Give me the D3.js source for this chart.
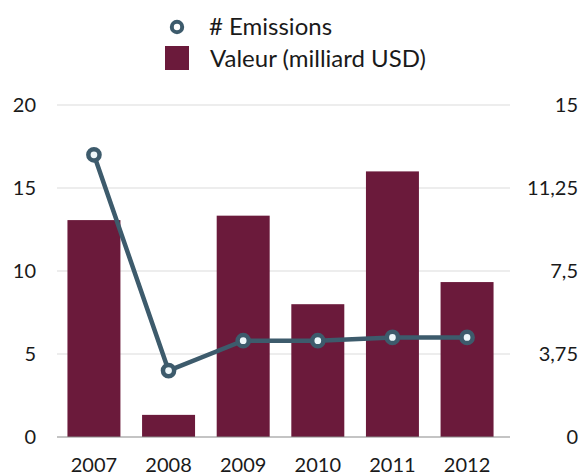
<!DOCTYPE html>
<html>
<head>
<meta charset="utf-8">
<script src="https://cdn.jsdelivr.net/npm/d3@7"></script>
<style>
  html, body { margin: 0; padding: 0; background: #ffffff; }
  svg text { font-family: Lato, "Open Sans", sans-serif; fill: #1a1a1a; }
</style>
</head>
<body>
<svg id="chart" width="581" height="475"></svg>
<script>
// Years on the x axis
const years = ["2007", "2008", "2009", "2010", "2011", "2012"];
// Value of issues, billion USD (right axis)
const valeur = [9.8, 1.0, 10.0, 6.0, 12.0, 7.0];
// Number of issues (left axis)
const emissions = [17, 4, 5.8, 5.8, 6, 6];
// Tick values for both vertical axes
const leftTicks = [0, 5, 10, 15, 20];
const rightTicks = [0, 3.75, 7.5, 11.25, 15];

const svg = d3.select("#chart");
const barColor = "#6b1a3b";
const lineColor = "#3d5b6c";

const plotLeft = 57, plotRight = 510, plotTop = 105, plotBottom = 437;

const x = d3.scaleBand().domain(years).range([plotLeft, 504])
  .paddingInner(0.29).paddingOuter(0.14);
const yLeft = d3.scaleLinear().domain([0, 20]).range([plotBottom, plotTop]);
const yRight = d3.scaleLinear().domain([0, 15]).range([plotBottom, plotTop]);

const fmtFr = d3.formatLocale({ decimal: ",", thousands: " ", grouping: [3], currency: ["", " $"] }).format("~g");

// Horizontal gridlines
svg.append("g").selectAll("line").data(leftTicks.filter(d => d > 0)).join("line")
  .attr("x1", plotLeft).attr("x2", plotRight)
  .attr("y1", d => yLeft(d)).attr("y2", d => yLeft(d))
  .attr("stroke", "#dcdcdc").attr("stroke-width", 1.2);

// Bars
svg.append("g").selectAll("rect").data(valeur).join("rect")
  .attr("x", (d, i) => x(years[i]))
  .attr("width", x.bandwidth())
  .attr("y", d => yRight(d))
  .attr("height", d => yRight(0) - yRight(d))
  .attr("fill", barColor);

// Baseline
svg.append("line")
  .attr("x1", plotLeft).attr("x2", plotRight)
  .attr("y1", plotBottom).attr("y2", plotBottom)
  .attr("stroke", "#8a8a8a").attr("stroke-width", 1.2);

// Left axis labels
const leftAxis = d3.axisLeft(yLeft).tickValues(leftTicks).tickSize(0).tickPadding(0);
svg.append("g").attr("transform", "translate(36,0)").call(leftAxis)
  .call(g => g.select(".domain").remove())
  .selectAll("text").attr("font-size", 20).attr("font-family", "Lato").attr("fill", "#1a1a1a");

// Right axis labels
const rightAxis = d3.axisRight(yRight).tickValues(rightTicks).tickSize(0).tickPadding(0)
  .tickFormat(d => fmtFr(d));
svg.append("g").attr("transform", "translate(578,0)").call(rightAxis)
  .call(g => g.select(".domain").remove())
  .selectAll("text").attr("text-anchor", "end")
  .attr("font-size", 20).attr("font-family", "Lato").attr("fill", "#1a1a1a");

// Year labels
const bottomAxis = d3.axisBottom(x).tickSize(0).tickPadding(0);
svg.append("g").attr("transform", `translate(0,${plotBottom + 21})`).call(bottomAxis)
  .call(g => g.select(".domain").remove())
  .selectAll("text").attr("font-size", 20).attr("font-family", "Lato").attr("fill", "#1a1a1a");

// Emissions line with ring markers
const line = d3.line()
  .x((d, i) => x(years[i]) + x.bandwidth() / 2)
  .y(d => yLeft(d));
svg.append("path").datum(emissions)
  .attr("d", line)
  .attr("fill", "none").attr("stroke", lineColor)
  .attr("stroke-width", 4.5).attr("stroke-linejoin", "round");
svg.append("g").selectAll("circle").data(emissions).join("circle")
  .attr("cx", (d, i) => x(years[i]) + x.bandwidth() / 2)
  .attr("cy", d => yLeft(d))
  .attr("r", 5.6)
  .attr("fill", "#eef7fa").attr("stroke", lineColor).attr("stroke-width", 4.5);

// Legend
const legend = svg.append("g");
legend.append("circle").attr("cx", 177).attr("cy", 27).attr("r", 5.2)
  .attr("fill", "#ffffff").attr("stroke", lineColor).attr("stroke-width", 4);
legend.append("text").attr("x", 209).attr("y", 35).attr("font-size", 24)
  .text("# Emissions");
legend.append("rect").attr("x", 165).attr("y", 46).attr("width", 24).attr("height", 24)
  .attr("fill", barColor);
legend.append("text").attr("x", 210).attr("y", 67).attr("font-size", 24)
  .text("Valeur (milliard USD)");
</script>
</body>
</html>
